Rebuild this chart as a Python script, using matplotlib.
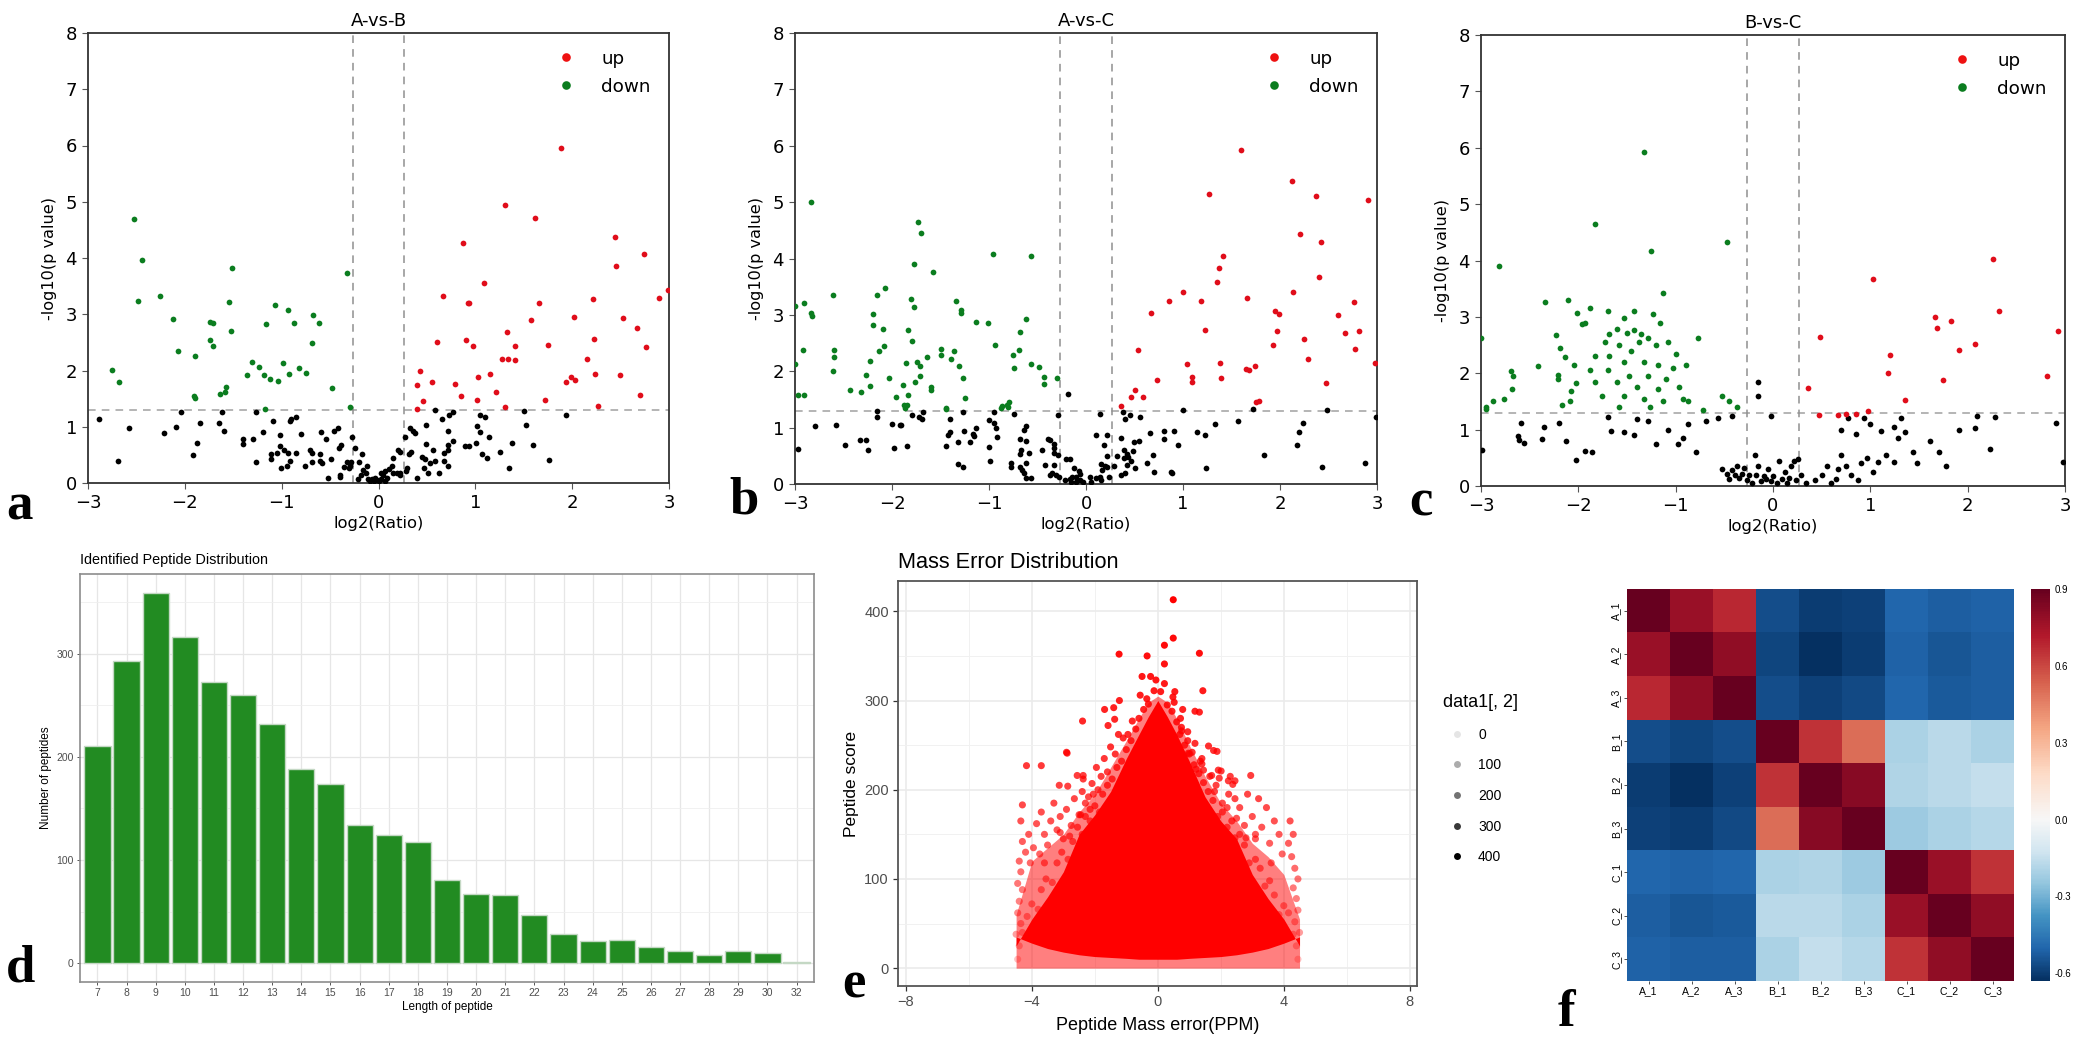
import matplotlib
matplotlib.use('Agg')
import matplotlib.pyplot as plt
import numpy as np
from matplotlib.colors import TwoSlopeNorm
from matplotlib.lines import Line2D

W, H = 2080, 1040

#########################       DATA

a_up = [(.40,1.75),(.43,1.99),(.46,1.46),(.40,1.32),(.55,1.79),(.60,2.50),(.67,3.33),(.79,1.76),(.85,1.54),(.87,4.27),
        (.90,2.54),(.92,3.20),(.93,3.20),(.98,2.44),(1.02,1.48),(1.03,1.88),(1.09,3.56),(1.15,1.93),(1.21,1.62),(1.28,2.20),
        (1.34,2.21),(1.31,4.95),(1.33,2.69),(1.41,2.44),(1.41,2.18),(1.31,1.35),(1.62,4.72),(1.57,2.89),(1.88,5.95),(2.44,4.38),
        (2.74,4.07),(2.45,3.86),(2.99,3.44),(2.90,3.29),(2.21,3.27),(1.66,3.20),(2.02,2.96),(2.52,2.93),(2.67,2.76),(2.23,2.56),
        (1.75,2.46),(2.76,2.42),(2.15,2.20),(1.94,1.80),(1.99,1.88),(2.03,1.84),(2.24,1.93),(2.49,1.92),(2.70,1.56),(1.72,1.48),(2.27,1.37)]
a_down = [(-2.75,2.01),(-2.68,1.79),(-2.52,4.69),(-2.44,3.97),(-2.48,3.24),(-2.26,3.33),(-2.12,2.92),(-2.07,2.34),(-1.90,2.25),(-1.91,1.54),
          (-1.90,1.51),(-1.74,2.86),(-1.71,2.85),(-1.74,2.54),(-1.71,2.43),(-1.64,1.59),(-1.59,1.62),(-1.58,1.71),(-1.54,3.21),(-1.51,3.82),
          (-1.52,2.70),(-1.36,1.92),(-1.31,2.15),(-1.23,2.07),(-1.18,1.92),(-1.17,1.32),(-1.12,1.85),(-1.16,2.83),(-1.07,3.16),(-1.04,1.81),
          (-.99,2.14),(-.93,3.08),(-.92,1.93),(-.87,2.85),(-.82,2.04),(-.75,1.96),(-.69,2.49),(-.68,2.98),(-.61,2.85),(-.48,1.69),(-.33,3.74),(-.29,1.35)]
a_none = [(-2.89,1.14),(-2.58,.97),(-2.69,.39),(-2.21,.89),(-2.09,1.00),(-2.04,1.26),(-1.84,1.06),(-1.87,.71),(-1.92,.50),(-1.65,1.06),
          (-1.60,.92),(-1.62,1.27),(-1.40,.78),(-1.40,.70),(-1.30,.79),(-1.26,.37),(-1.26,1.27),(-1.19,.90),(-1.09,1.10),(-1.11,.52),
          (-1.11,.42),(-1.05,.53),(-1.02,.85),(-1.02,.65),(-.98,.59),(-1.01,.27),(-.94,.30),(-.91,.39),(-.93,.53),(-.91,1.10),
          (-.90,1.13),(-.85,1.17),(-.85,.54),(-.80,.87),(-.76,.30),(-.71,.59),(-.69,.53),(-.69,.37),(-.60,.52),(-.60,.40),
          (-.58,.36),(-.59,.91),(-.54,.79),(-.52,.09),(-.49,.43),(-.46,.92),(-.42,.98),(-.41,.63),(-.39,.68),(-.40,.14),
          (-.40,.11),(-.36,.28),(-.33,.37),(-.30,.26),(-.29,.31),(-.28,.37),(-.27,.82),(-.24,.63),(-.20,.37),(-.17,.52),
          (-.21,.08),(-.18,.14),(-.16,.23),(-.13,.18),(-.12,.31),(-.11,.08),(-.07,.08),(-.04,.09),(-.09,.04),(-.05,.03),
          (-.02,.05),(.01,.04),(.03,.08),(.05,.14),(.07,.04),(.09,.09),(.03,.17),(.07,.21),(.11,.25),(.14,.30),
          (.15,.44),(.15,.17),(.19,.17),(.22,.18),(.20,.58),(.22,.55),(.22,.14),(.29,.27),(.28,.21),(.27,.82),
          (.33,.97),(.36,.92),(.38,.89),(.32,.51),(.34,.55),(.40,.09),(.45,.46),(.48,.42),(.49,1.03),(.49,.70),
          (.47,.27),(.51,.18),(.53,.36),(.58,.39),(.56,.58),(.62,.18),(.66,1.14),(.68,.54),(.72,.58),(.68,.39),
          (.72,.31),(.72,.92),(.72,.67),(.77,.75),(.73,1.21),(.77,1.26),(.89,.66),(.93,.66),(1.01,.72),(1.02,1.01),
          (1.05,.91),(1.05,1.21),(1.10,1.17),(1.14,.81),(1.07,.51),(1.12,.44),(1.25,.55),(1.35,.27),(1.38,.71),(1.52,1.03),
          (1.50,1.28),(1.60,.68),(1.76,.41),(1.94,1.21),(.58,1.29)]

b_up = [(.36,1.38),(.46,1.55),(.51,1.66),(.59,1.55),(.73,1.85),(.54,2.37),(.67,3.04),(.86,3.25),(1.00,3.41),(1.04,2.13),
        (1.09,1.89),(1.09,1.81),(1.19,3.25),(1.23,2.74),(1.27,5.14),(1.35,3.58),(1.37,3.84),(1.41,4.04),(1.38,2.14),(1.39,1.88),
        (1.60,5.93),(1.66,3.30),(1.65,2.04),(1.68,2.02),(1.74,2.10),(1.75,1.46),(1.78,1.48),(1.93,2.47),(1.95,3.06),(1.99,3.02),
        (1.97,2.72),(2.12,5.38),(2.13,3.41),(2.21,4.43),(2.25,2.58),(2.29,2.21),(2.37,5.10),(2.42,4.29),(2.40,3.67),(2.47,1.79),
        (2.60,2.99),(2.67,2.67),(2.76,3.22),(2.81,2.71),(2.77,2.40),(2.91,5.03),(2.98,2.15)]
b_down = [(-2.83,5.00),(-3.00,3.15),(-2.91,3.21),(-2.84,3.03),(-2.82,2.98),(-2.92,2.38),(-3.0,2.13),(-2.97,1.57),(-2.91,1.57),(-2.61,3.36),
          (-2.60,2.37),(-2.60,2.25),(-2.61,2.01),(-2.43,1.66),(-2.32,1.64),(-2.27,1.93),(-2.23,1.74),(-2.23,2.19),(-2.20,3.02),(-2.20,2.82),
          (-2.15,3.35),(-2.13,2.36),(-2.09,2.75),(-2.08,2.44),(-2.07,3.47),(-2.03,1.88),(-1.96,1.55),(-1.89,1.75),(-1.88,1.41),(-1.85,1.40),
          (-1.84,1.57),(-1.86,2.14),(-1.84,2.73),(-1.80,3.28),(-1.77,3.14),(-1.77,3.91),(-1.73,4.65),(-1.70,4.45),(-1.79,2.53),(-1.74,2.17),
          (-1.71,2.10),(-1.76,1.81),(-1.71,1.91),(-1.64,2.25),(-1.58,3.76),(-1.60,1.72),(-1.60,1.67),(-1.50,2.39),(-1.49,2.28),(-1.44,1.33),
          (-1.39,2.21),(-1.36,2.36),(-1.34,3.25),(-1.31,2.10),(-1.29,3.09),(-1.29,3.04),(-1.27,1.88),(-1.25,1.52),(-1.13,2.87),(-1.01,2.85),
          (-.96,4.08),(-.94,2.47),(-.87,1.38),(-.81,1.40),(-.79,1.45),(-.75,2.28),(-.74,2.06),(-.69,2.37),(-.68,2.70),(-.62,2.93),
          (-.57,4.05),(-.57,2.12),(-.48,2.08),(-.43,1.90),(-.43,1.78),(-.30,1.88),(-1.87,1.34),(-1.44,1.34),(-.88,1.35),(-.80,1.36)]
b_none = [(-2.97,.62),(-2.79,1.03),(-2.58,1.04),(-2.48,.70),(-2.33,.78),(-2.27,.78),(-2.25,.61),(-2.15,1.30),(-2.15,1.18),(-2.00,1.07),
          (-1.98,.63),(-1.92,1.04),(-1.91,1.04),(-1.85,.67),(-1.79,1.22),(-1.72,1.19),(-1.69,1.16),(-1.68,1.27),(-1.44,.68),(-1.40,1.16),
          (-1.40,.93),(-1.42,.87),(-1.32,.75),(-1.32,.35),(-1.27,.31),(-1.27,1.28),(-1.26,.94),(-1.20,.75),(-1.17,.88),(-1.15,.86),
          (-1.13,.99),(-1.00,.65),(-.99,.41),(-1.00,1.14),(-.95,1.27),(-.95,1.09),(-.93,.99),(-.92,.83),(-.77,.38),(-.77,.30),
          (-.74,1.25),(-.68,.80),(-.68,.54),(-.67,.60),(-.68,.31),(-.66,.25),(-.64,.19),(-.62,.11),(-.64,.96),(-.62,1.02),
          (-.62,.76),(-.62,.38),(-.59,.55),(-.57,.11),(-.45,.61),(-.42,.34),(-.39,.80),(-.37,.78),(-.33,.71),(-.33,.63),
          (-.33,.34),(-.37,.16),(-.35,.19),(-.31,.16),(-.28,.13),(-.33,.55),(-.29,.51),(-.29,1.22),(-.22,.07),(-.21,.45),
          (-.17,.45),(-.17,.09),(-.12,.29),(-.14,.13),(-.15,.03),(-.10,.13),(-.07,.23),(-.06,.17),(-.10,.04),(-.06,.07),
          (-.03,.03),(.04,.13),(.05,.04),(.10,.11),(.14,.13),(.15,.07),(.16,.25),(.15,.35),(.20,.32),(.22,.30),
          (.24,.12),(.29,.32),(.10,.87),(.22,.87),(.14,1.24),(.19,.70),(.22,.50),(.32,.50),(.36,.16),(.40,.19),
          (.36,.81),(.39,.60),(.42,.54),(.39,.47),(.43,.48),(.46,.41),(.42,.34),(.48,.59),(.49,.75),(.51,.28),
          (.55,.77),(.38,1.27),(.40,1.15),(.45,1.22),(.56,1.19),(.63,.38),(.66,.91),(.69,.51),(.70,.21),(.80,.94),
          (.80,.79),(.88,.21),(.91,.94),(.95,.70),(.89,.19),(1.14,.93),(1.23,.87),(1.33,1.06),(1.57,1.12),(1.24,.29),
          (1.84,.51),(2.18,.69),(2.20,.93),(2.24,1.09),(2.43,.30),(2.88,.38),(1.00,1.32),(1.72,1.33),(2.48,1.32),(2.99,1.18),(-.19,1.60)]

c_up = [(.36,1.73),(.48,2.65),(.47,1.26),(.67,1.26),(1.03,3.67),(1.20,2.33),(1.18,2.00),(1.36,1.52),(.98,1.33),(1.66,3.00),
        (1.68,2.80),(1.83,2.93),(1.91,2.42),(1.75,1.88),(2.08,2.52),(2.26,4.03),(2.32,3.10),(2.82,1.95),(2.93,2.75),(.75,1.28),(.85,1.28)]
c_down = [(-2.82,3.91),(-2.34,3.27),(-2.11,3.30),(-2.01,3.07),(-3.00,2.62),(-2.23,2.68),(-2.19,2.45),(-2.14,2.28),(-2.04,2.15),(-2.41,2.12),
          (-2.69,2.04),(-2.67,1.96),(-2.21,1.97),(-2.21,1.90),(-2.02,1.83),(-2.68,1.72),(-2.08,1.69),(-2.76,1.54),(-2.88,1.50),(-2.09,1.51),
          (-2.17,1.43),(-2.95,1.41),(-2.95,1.36),(-1.33,5.93),(-1.83,4.65),(-1.25,4.17),(-.47,4.33),(-1.13,3.43),(-1.70,3.10),(-1.88,3.16),
          (-1.43,3.10),(-1.53,2.98),(-1.23,3.05),(-1.16,2.90),(-1.60,2.78),(-1.50,2.72),(-1.43,2.76),(-1.36,2.70),(-1.28,2.62),(-1.68,2.70),
          (-1.73,2.55),(-1.58,2.50),(-1.46,2.40),(-1.38,2.55),(-1.20,2.50),(-1.08,2.55),(-1.00,2.35),(-.89,2.15),(-.77,2.62),(-1.83,2.30),
          (-1.68,2.30),(-1.53,2.20),(-1.33,2.20),(-1.18,2.15),(-1.03,2.10),(-1.88,2.05),(-1.70,2.05),(-1.48,1.95),(-1.28,1.95),(-1.10,1.90),
          (-1.83,1.85),(-1.60,1.85),(-1.40,1.75),(-1.18,1.72),(-.97,1.75),(-.92,1.55),(-1.76,1.60),(-1.53,1.60),(-1.33,1.55),(-1.13,1.50),
          (-.87,1.50),(-.52,1.60),(-.45,1.50),(-.37,1.40),(-.72,1.35),(-1.58,1.40),(-1.26,1.40),(-1.96,2.87),(-1.93,2.90)]
c_none = [(-2.99,.64),(-2.59,1.12),(-2.62,.88),(-2.61,.82),(-2.56,.76),(-2.37,.83),(-2.13,.79),(-2.02,.47),(-2.35,1.05),(-2.20,1.12),
          (-1.93,.62),(-1.86,.60),(-1.70,1.22),(-1.66,.98),(-1.53,.95),(-1.43,.90),(-1.40,1.18),(-1.28,1.15),(-1.20,.75),(-1.08,1.00),
          (-.98,.75),(-.92,.85),(-.87,1.10),(-.79,.60),(-.69,1.15),(-.57,1.20),(-.42,1.25),(-.15,1.85),(-.15,1.60),(-.02,1.25),
          (-.52,.30),(-.47,.22),(-.45,.12),(-.42,.28),(-.39,.20),(-.37,.35),(-.35,.15),(-.32,.22),(-.30,.32),(-.27,.10),
          (-.25,.20),(-.22,.05),(-.19,.55),(-.17,.20),(-.15,.35),(-.12,.08),(-.09,.18),(-.07,.12),(-.05,.30),(-.02,.08),
          (0,.18),(.04,.05),(.06,.45),(.09,.12),(.12,.25),(.14,.05),(.16,.15),(.19,.35),(.22,.45),(.24,.10),
          (.26,.48),(.29,.20),(.34,.05),(.43,.10),(.50,.20),(.55,.35),(.60,.05),(.65,.12),(.67,.30),(.70,.55),
          (.75,.35),(.80,.20),(.87,.10),(.90,.40),(.97,.50),(1.03,.25),(1.08,.42),(1.16,.55),(1.24,.42),(1.28,.85),
          (.70,1.00),(.77,1.20),(.85,.92),(.93,1.20),(1.00,1.10),(1.11,.98),(1.24,1.05),(1.31,1.20),(1.36,.95),(1.44,.60),
          (1.48,.40),(1.61,.80),(1.71,.60),(1.78,.35),(1.91,1.00),(2.08,1.02),(2.23,.65),(2.10,1.25),(2.28,1.22),(2.91,1.12),(2.98,.43)]

peptide_len = ['7','8','9','10','11','12','13','14','15','16','17','18','19','20','21','22','23','24','25','26','27','28','29','30','32']
peptide_cnt = [210,293,359,316,272,260,232,188,174,134,124,118,81,67,66,47,28,22,23,16,12,8,12,10,1]

# mass error: the dense centre cannot be read point by point, only its outline
err_x = [-4.5,-4,-3.5,-3,-2.5,-2,-1.5,-1,-.6,-.3,0,.3,.6,1,1.5,2,2.5,3,3.5,4,4.5]
err_outer = [60,120,135,150,175,195,225,255,280,298,305,298,280,250,215,185,165,140,125,105,55]
err_core = [25,55,80,108,150,172,198,235,262,282,300,282,262,232,192,165,145,105,78,55,25]
err_base = [35,28,22,18,15,13,12,11,10,10,10,10,10,11,12,13,15,18,22,28,35]
err_points = [(.49,413),(.49,370),(.21,362),(-1.23,352),(-.34,350),(.21,341),(-.5,327),(-.23,327),(-.06,323),(.21,319),
              (-.12,311),(.09,310),(.54,310),(-.56,306),(-.35,302),(-1.22,300),(.48,304),(.52,298),(-1.69,290),(-1.4,292),
              (-1.37,279),(-2.39,277),(-1.58,272),(-.81,277),(-4.17,227),(-3.7,227),(-2.9,242),(-2.88,241),(-2.56,216),(-2.37,216),
              (-2.37,212),(-3.13,205),(-2.86,204),(-2.09,207),(-2.4,198),(1.32,353),(1.43,311),(.79,290),(1.18,288),(1.32,287),
              (.72,280),(.76,266),(1.18,252),(1.61,249),(1.77,244),(1.88,243),(1.09,242),(.97,241),(1.4,235),(1.4,229),
              (1.22,223),(1.92,222),(2.01,221),(1.71,216),(2.3,215),(1.95,213),(2.24,210),(2.45,210),(2.38,206),(2.95,216),
              (-4.45,10),(-4.4,25),(-4.5,38),(-4.35,50),(-4.45,62),(-4.4,75),(-4.3,88),(-4.45,95),(-4.35,108),(-4.4,120),
              (-4.2,130),(-4.3,142),(-4.35,165),(-4.3,183),(-4.1,150),(-4.05,118),(-3.95,135),(-3.85,162),(-3.7,175),(-3.6,150),
              (-3.75,128),(-3.5,138),(-3.4,165),(-3.3,185),(-3.2,155),(-3.1,170),(-3,145),(-2.9,178),(-2.75,160),(-2.65,190),
              (-2.5,172),(-2.3,185),(-2.05,195),(-2.15,178),(-1.9,200),(-1.7,235),(-1.5,248),(-1.25,262),(-1.1,258),(-1.6,220),
              (-1.95,225),(4.45,10),(4.4,25),(4.5,40),(4.35,52),(4.45,65),(4.4,78),(4.3,90),(4.45,100),(4.35,112),
              (4.25,125),(4.15,140),(4.3,150),(4.2,165),(3.95,128),(3.85,150),(3.7,165),(3.55,140),(3.45,180),(3.3,158),
              (3.2,190),(3.1,145),(3,170),(2.85,195),(2.75,160),(2.6,180),(2.45,190),(2.25,195),(2.05,185),(1.85,205),
              (1.65,215),(1.45,222),(.95,255),(.75,270),
              (-4.3,40),(-4.15,58),(-4.0,72),(-3.8,66),(-3.7,88),(-3.55,100),(-3.35,96),(-3.2,118),(-3.05,130),(-2.85,122),
              (-2.7,142),(-2.55,158),(-2.4,150),(-2.3,170),(-2.15,165),(-2,182),(-1.85,175),(-1.75,195),(-1.6,205),(-1.45,212),
              (-1.3,225),(-1.15,232),(-1,245),(-.85,255),(-.7,268),(-.6,280),(-.45,290),(-.3,296),
              (4.3,38),(4.15,62),(4.0,70),(3.85,60),(3.7,82),(3.55,98),(3.4,92),(3.25,112),(3.1,122),(2.9,118),
              (2.75,138),(2.6,150),(2.45,146),(2.35,165),(2.2,158),(2.05,175),(1.9,170),(1.75,188),(1.6,198),(1.45,208),
              (1.3,218),(1.15,228),(1,240),(.85,250),(.7,262),(.6,276),(.45,288),(.3,295),
              (-3.6,118),(-3.1,152),(-2.8,148),(-2.45,172),(-2.2,192),(-1.8,215),(-1.35,240),(-.95,262),
              (3.6,118),(3.1,150),(2.8,146),(2.5,168),(2.2,180),(1.8,198),(1.35,232),(.95,265)]
score_levels = [0,100,200,300,400]

samples = ['A_1','A_2','A_3','B_1','B_2','B_3','C_1','C_2','C_3']
corr = [[.90,.78,.68,-.56,-.60,-.59,-.50,-.52,-.51],
        [.78,.90,.80,-.58,-.63,-.60,-.51,-.54,-.52],
        [.68,.80,.90,-.56,-.59,-.57,-.50,-.53,-.52],
        [-.56,-.58,-.56,.90,.65,.50,-.20,-.17,-.20],
        [-.60,-.63,-.59,.65,.90,.82,-.19,-.17,-.15],
        [-.59,-.60,-.57,.50,.82,.90,-.23,-.20,-.18],
        [-.50,-.51,-.50,-.20,-.19,-.23,.90,.78,.65],
        [-.52,-.54,-.53,-.17,-.17,-.20,.78,.90,.80],
        [-.51,-.52,-.52,-.20,-.15,-.18,.65,.80,.90]]
cbar_ticks = [-.6,-.3,0,.3,.6,.9]

#########################       HELPERS


def axpx(left, top, right, bottom):
    return fig.add_axes([left / W, 1 - bottom / H, (right - left) / W, (bottom - top) / H])


def textpx(x, y, s, **kw):
    return fig.text(x / W, 1 - y / H, s, **kw)


def volcano(box, title, up, down, none):
    ax = axpx(*box)
    for pts, col in [(none, 'black'), (down, '#0b7d1f'), (up, '#e00d1a')]:
        pts = np.array(pts)
        ax.scatter(pts[:, 0], pts[:, 1], s=17, c=col, linewidths=0, zorder=3)
    ax.axhline(1.3, color='#a0a0a0', lw=1.1, dashes=(5, 4), zorder=2)
    ax.axvline(-0.263, color='#909090', lw=1.1, dashes=(5, 4), zorder=2)
    ax.axvline(0.263, color='#909090', lw=1.1, dashes=(5, 4), zorder=2)
    ax.set_xlim(-3, 3)
    ax.set_ylim(0, 8)
    ax.set_yticks(range(9))
    ax.tick_params(labelsize=13, length=4, width=0.8, color='#555555', pad=4)
    ax.set_xlabel('log2(Ratio)', fontsize=11.8, labelpad=3)
    ax.set_ylabel('-log10(p value)', fontsize=11.6, labelpad=6)
    ax.set_title(title, fontsize=13, pad=5)
    for s in ax.spines.values():
        s.set_color('#333333')
        s.set_linewidth(1.3)
    handles = [Line2D([], [], ls='', marker='o', ms=6.2, color='#ee1111', mew=0),
               Line2D([], [], ls='', marker='o', ms=6.2, color='#0b7d1f', mew=0)]
    ax.legend(handles, ['up', 'down'], loc='upper right', frameon=False, fontsize=13.2,
              labelspacing=0.55, handletextpad=0.9, bbox_to_anchor=(0.997, 1.0))
    return ax


#########################       FIGURE

fig = plt.figure(figsize=(W / 100, H / 100), dpi=100)

volcano((88, 33, 669, 483), 'A-vs-B', a_up, a_down, a_none)
volcano((795, 33, 1377, 484), 'A-vs-C', b_up, b_down, b_none)
volcano((1481, 35, 2065, 486), 'B-vs-C', c_up, c_down, c_none)

# peptide length
ax = axpx(80, 574, 814, 982)
pos = np.arange(len(peptide_len))
ax.bar(pos, peptide_cnt, width=0.9, color='#228B22', edgecolor='#c4d8c4', lw=1, zorder=3)
ax.set_xlim(-0.6, len(peptide_len) - 0.4)
ax.set_ylim(-18, 377)
ax.set_xticks(pos)
ax.set_xticklabels(peptide_len, family='Liberation Sans')
ax.set_yticks([0, 100, 200, 300])
ax.set_yticks([50, 150, 250, 350], minor=True)
ax.grid(True, which='major', color='#e6e6e6', lw=0.9, zorder=0)
ax.grid(True, which='minor', axis='y', color='#efefef', lw=0.6, zorder=0)
ax.tick_params(axis='both', which='major', labelsize=7.5, length=2.5, width=0.7, color='#555555',
               labelcolor='#4d4d4d', pad=2)
ax.tick_params(which='minor', length=0)
for lab in ax.get_yticklabels():
    lab.set_family('Liberation Sans')
ax.set_xlabel('Length of peptide', fontsize=8.5, family='Liberation Sans', labelpad=2)
ax.set_ylabel('Number of peptides', fontsize=8.5, family='Liberation Sans', labelpad=3)
ax.set_title('Identified Peptide Distribution', fontsize=10.4, family='Liberation Sans', loc='left', pad=7)
for s in ax.spines.values():
    s.set_color('#8c8c8c')
    s.set_linewidth(1.2)

# mass error
ax = axpx(898, 581, 1417, 986)
ax.fill_between(err_x, 0, err_outer, color='red', alpha=0.5, lw=0, zorder=2)
ax.fill_between(err_x, err_base, err_core, color='red', lw=0, zorder=3)
pts = np.array(err_points)
cols = np.zeros((len(pts), 4))
cols[:, 0] = 1
cols[:, 3] = 0.1 + 0.9 * np.clip(pts[:, 1] / 400, 0, 1) ** 0.5
ax.scatter(pts[:, 0], pts[:, 1], s=26, c=cols, linewidths=0, zorder=4)
ax.set_xlim(-8.25, 8.23)
ax.set_ylim(-20, 434)
ax.set_xticks([-8, -4, 0, 4, 8])
ax.set_xticks([-6, -2, 2, 6], minor=True)
ax.set_yticks([0, 100, 200, 300, 400])
ax.set_yticks([50, 150, 250, 350], minor=True)
ax.grid(True, which='major', color='#ebebeb', lw=1.2, zorder=0)
ax.grid(True, which='minor', color='#f1f1f1', lw=0.7, zorder=0)
ax.tick_params(which='minor', length=0)
ax.tick_params(which='major', labelsize=10.5, length=3.5, width=0.9, color='#333333', labelcolor='#4d4d4d', pad=3)
for lab in ax.get_xticklabels() + ax.get_yticklabels():
    lab.set_family('Liberation Sans')
ax.set_xlabel('Peptide Mass error(PPM)', fontsize=13, family='Liberation Sans', labelpad=6)
ax.set_ylabel('Peptide score', fontsize=12.5, family='Liberation Sans', labelpad=4)
ax.set_title('Mass Error Distribution', fontsize=15.7, family='Liberation Sans', loc='left', pad=9)
for s in ax.spines.values():
    s.set_color('#555555')
    s.set_linewidth(1.3)
handles = [Line2D([], [], ls='', marker='o', ms=5, mew=0, color='black', alpha=0.1 + 0.9 * lv / 400) for lv in score_levels]
ax.legend(handles, [str(lv) for lv in score_levels], title='data1[, 2]', loc='upper left', frameon=False,
          bbox_to_anchor=(1.04, 0.735), prop={'family': 'Liberation Sans', 'size': 10},
          title_fontproperties={'family': 'Liberation Sans', 'size': 13}, labelspacing=1.2,
          handletextpad=0.5, borderaxespad=0, alignment='left')

# correlation heatmap
ax = axpx(1627, 589, 2014, 981)
norm = TwoSlopeNorm(vcenter=0, vmin=-0.63, vmax=0.9)
im = ax.imshow(corr, cmap='RdBu_r', norm=norm, aspect='auto', interpolation='nearest')
ax.set_xticks(range(9))
ax.set_yticks(range(9))
ax.set_xticklabels(samples, fontsize=7.5, family='Liberation Sans')
ax.set_yticklabels(samples, fontsize=7.5, family='Liberation Sans', rotation=90, va='center')
ax.tick_params(length=2, width=0.6, pad=2, color='#333333')
for s in ax.spines.values():
    s.set_visible(False)
cax = axpx(2031, 589, 2050, 981)
cb = fig.colorbar(im, cax=cax)
cb.ax.set_yscale('linear')
cb.set_ticks(cbar_ticks)
cb.set_ticklabels(['-0.6', '-0.3', '0.0', '0.3', '0.6', '0.9'])
cb.ax.tick_params(labelsize=7, length=0, pad=3)
cb.ax.minorticks_off()
cb.outline.set_visible(False)
for lab in cb.ax.get_yticklabels():
    lab.set_family('Liberation Sans')

# panel letters
for x, y, s in [(6, 519, 'a'), (729, 514, 'b'), (1409, 516, 'c'), (6, 981, 'd'), (842, 998, 'e'), (1558, 1026, 'f')]:
    textpx(x, y, s, fontsize=38, fontweight='bold', family='Liberation Serif', va='baseline', ha='left')

fig.savefig('out.png', dpi=100)
